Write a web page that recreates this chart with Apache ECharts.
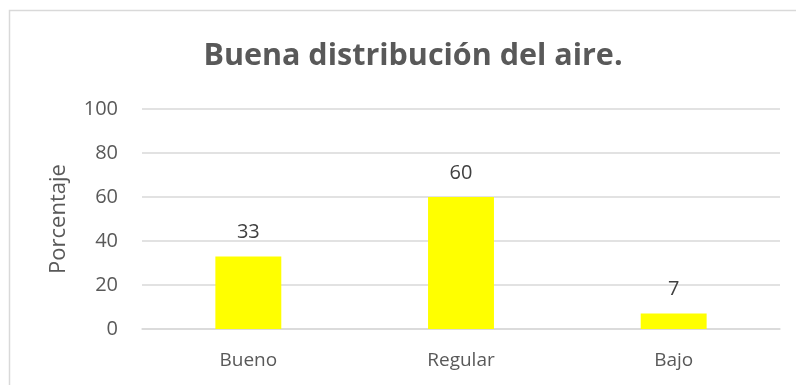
<!DOCTYPE html>
<html>
<head>
<meta charset="utf-8">
<script src="https://cdn.jsdelivr.net/npm/echarts@6/dist/echarts.min.js"></script>
<style>
  html, body { margin: 0; padding: 0; background: #fff; }
  #chart { width: 796px; height: 385px; }
</style>
</head>
<body>
<div id="chart"></div>
<script>
// Survey results: perceived air distribution
const categories = ['Bueno', 'Regular', 'Bajo'];
const percentages = [33, 60, 7];
const yTicks = { min: 0, max: 100, interval: 20 };

const textColor = '#595959';
const fontFamily = '"Open Sans", "Noto Sans", sans-serif';

const chart = echarts.init(document.getElementById('chart'), null, { renderer: 'canvas' });

chart.setOption({
  animation: false,
  backgroundColor: '#ffffff',
  textStyle: { fontFamily: fontFamily },
  graphic: [{
    type: 'rect',
    shape: { x: 9.5, y: 10.5, width: 820, height: 420 },
    style: { fill: 'none', stroke: '#d9d9d9', lineWidth: 1.5 },
    silent: true,
    z: 0
  }],
  title: {
    text: 'Buena distribución del aire.',
    left: 408,
    textAlign: 'center',
    top: 36,
    textStyle: {
      color: textColor,
      fontFamily: fontFamily,
      fontWeight: 'bold',
      fontSize: 30.5
    }
  },
  grid: { left: 142, right: 16, top: 109, bottom: 56 },
  xAxis: {
    type: 'category',
    data: categories,
    axisLine: { show: true, lineStyle: { color: '#d9d9d9', width: 1.5 } },
    axisTick: { show: false },
    axisLabel: { color: textColor, fontSize: 19, margin: 22, fontFamily: fontFamily }
  },
  yAxis: {
    type: 'value',
    min: yTicks.min,
    max: yTicks.max,
    interval: yTicks.interval,
    name: 'Porcentaje',
    nameLocation: 'middle',
    nameGap: 72,
    nameRotate: 90,
    nameTextStyle: { color: textColor, fontSize: 22, fontFamily: fontFamily },
    axisLine: { show: false },
    axisTick: { show: false },
    axisLabel: { color: textColor, fontSize: 20, margin: 24, fontFamily: fontFamily },
    splitLine: { lineStyle: { color: '#d9d9d9', width: 1.5 } }
  },
  series: [{
    type: 'bar',
    data: percentages,
    barWidth: '31%',
    itemStyle: { color: '#ffff00' },
    label: {
      show: true,
      position: 'top',
      distance: 14,
      color: '#404040',
      fontSize: 20,
      fontFamily: fontFamily
    }
  }]
});
</script>
</body>
</html>
